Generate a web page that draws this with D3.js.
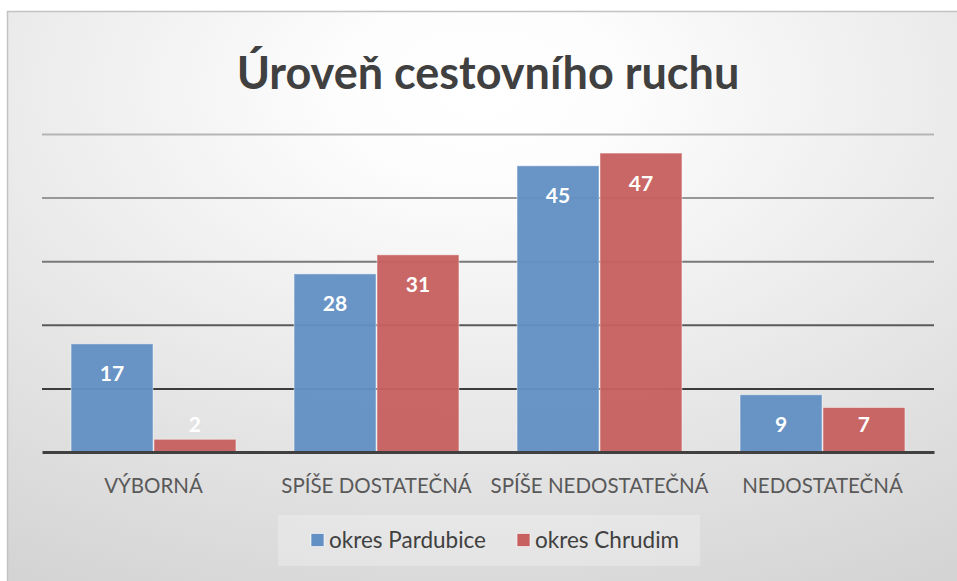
<!DOCTYPE html>
<html>
<head>
<meta charset="utf-8">
<script src="https://cdn.jsdelivr.net/npm/d3@7"></script>
<style>
  body { margin: 0; background: #fff; }
  svg { display: block; font-family: Lato, "Open Sans", sans-serif; }
</style>
</head>
<body>
<script>
// chart data
const categories = ["VÝBORNÁ", "SPÍŠE DOSTATEČNÁ", "SPÍŠE NEDOSTATEČNÁ", "NEDOSTATEČNÁ"];
const seriesNames = ["okres Pardubice", "okres Chrudim"];
const pardubice = [17, 28, 45, 9];
const chrudim = [2, 31, 47, 7];
const gridTicks = [10, 20, 30, 40, 50];
const colors = ["#6290c4", "#c76160"];

const width = 957, height = 581;
const plot = { left: 42, right: 934, top: 134, bottom: 452 };

const svg = d3.select("body").append("svg")
  .attr("width", width)
  .attr("height", height);

// background gradient (light centre, grey edges)
const defs = svg.append("defs");
const grad = defs.append("radialGradient")
  .attr("id", "bg")
  .attr("gradientUnits", "userSpaceOnUse")
  .attr("cx", 0).attr("cy", 0).attr("r", 1)
  .attr("gradientTransform", "translate(480,90) scale(900,560)");
grad.append("stop").attr("offset", 0).attr("stop-color", "#ffffff");
grad.append("stop").attr("offset", 0.15).attr("stop-color", "#fdfdfd");
grad.append("stop").attr("offset", 1).attr("stop-color", "#d4d4d4");

svg.append("rect")
  .attr("x", 7.5).attr("y", 11.5)
  .attr("width", width).attr("height", height)
  .attr("fill", "url(#bg)")
  .attr("stroke", "#c3c3c3")
  .attr("stroke-width", 1.5);

// title
svg.append("text")
  .attr("x", 488).attr("y", 89)
  .attr("text-anchor", "middle")
  .style("font-size", "45px")
  .style("font-weight", "bold")
  .style("fill", "#404040")
  .text("Úroveň cestovního ruchu");

// scales
const x0 = d3.scaleBand()
  .domain(categories)
  .range([plot.left, plot.right])
  .paddingInner(0.256)
  .paddingOuter(0.128);

const x1 = d3.scaleBand()
  .domain(seriesNames)
  .range([0, x0.bandwidth()]);

const y = d3.scaleLinear()
  .domain([0, 50])
  .range([plot.bottom, plot.top]);

// gridlines, darker towards the bottom
const gridColors = d3.scaleLinear()
  .domain([10, 50])
  .range(["#3c3c3c", "#b5b5b5"]);

const grid = svg.append("g")
  .attr("transform", `translate(${plot.left},0)`)
  .call(d3.axisLeft(y)
    .tickValues(gridTicks)
    .tickSize(-(plot.right - plot.left))
    .tickFormat(""));
grid.select(".domain").remove();
grid.selectAll(".tick line")
  .attr("stroke", d => gridColors(d))
  .attr("stroke-width", 2);

// bars
const rows = categories.map((c, i) => ({
  cat: c,
  values: [
    { name: seriesNames[0], value: pardubice[i], color: colors[0] },
    { name: seriesNames[1], value: chrudim[i], color: colors[1] }
  ]
}));

const groups = svg.selectAll(".group")
  .data(rows)
  .enter().append("g")
  .attr("class", "group")
  .attr("transform", d => `translate(${x0(d.cat)},0)`);

groups.selectAll("rect")
  .data(d => d.values)
  .enter().append("rect")
  .attr("x", d => x1(d.name) + 0.5)
  .attr("y", d => y(d.value))
  .attr("width", x1.bandwidth() - 1)
  .attr("height", d => y(0) - y(d.value))
  .attr("fill", d => d.color)
  .attr("fill-opacity", 0.96)
  .attr("stroke", "rgba(255,255,255,0.45)")
  .attr("stroke-width", 1);

// value labels (inside end, kept above the axis for small bars)
groups.selectAll(".val")
  .data(d => d.values)
  .enter().append("text")
  .attr("class", "val")
  .attr("x", d => x1(d.name) + x1.bandwidth() / 2)
  .attr("y", d => Math.min(y(d.value) + 30, y(0) - 28))
  .attr("dy", "0.36em")
  .attr("text-anchor", "middle")
  .style("font-size", "21px")
  .style("font-weight", "bold")
  .style("fill", "#ffffff")
  .text(d => d.value);

// baseline + category axis
const xAxis = svg.append("g")
  .attr("transform", `translate(0,${plot.bottom})`)
  .call(d3.axisBottom(x0).tickSize(0).tickPadding(26));
xAxis.select(".domain")
  .attr("stroke", "#404040")
  .attr("stroke-width", 3);
xAxis.selectAll("text")
  .style("font-family", "Lato, 'Open Sans', sans-serif")
  .style("font-size", "20.5px")
  .style("fill", "#595959");

// legend
const legend = svg.append("g");
legend.append("rect")
  .attr("x", 278).attr("y", 515)
  .attr("width", 422).attr("height", 51)
  .attr("fill", "#ffffff")
  .attr("fill-opacity", 0.25);

const legendX = [311, 517];
const items = legend.selectAll(".item")
  .data(seriesNames)
  .enter().append("g")
  .attr("class", "item")
  .attr("transform", (d, i) => `translate(${legendX[i]},540)`);
items.append("rect")
  .attr("x", 0).attr("y", -6.5)
  .attr("width", 13).attr("height", 13)
  .attr("fill", (d, i) => colors[i])
  .attr("stroke", "rgba(255,255,255,0.6)");
items.append("text")
  .attr("x", 18).attr("dy", "0.36em")
  .style("font-size", "22.5px")
  .style("fill", "#404040")
  .text(d => d);
</script>
</body>
</html>
